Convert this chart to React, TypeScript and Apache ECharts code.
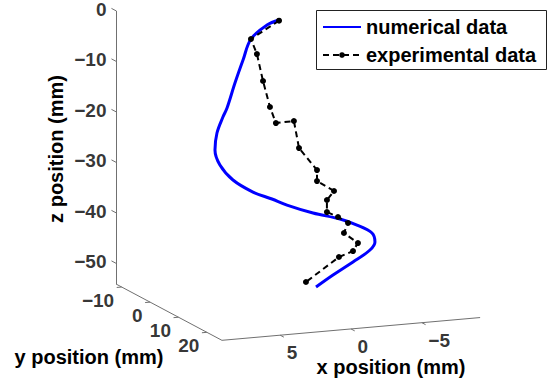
import React, { useEffect, useRef } from "react";
import * as echarts from "echarts";

// ---- data (mm) ----
const NUM_X = [0.01, 0.86, 1.99, 2.55, 3.12, 3.68, 3.97, 4.39, 4.53, 4.18, 3.26, 1.85, 0.51, -0.55, -2.39, -4.29, -5.49, -6.55, -6.76, -6.41, -5.21, -3.8, -2.6];
const NUM_Y = [0, 0, 0, 0, 0, 0, 0, 0, 0, 0, 0, 0, 0, 0, 0, 0, 0, 0, 0, 0, 0, 0, 0];
const NUM_Z = [-0.49, -1.27, -3.76, -7.78, -12.2, -17.01, -18.72, -21.78, -25.12, -28.17, -31.37, -34.1, -35.81, -37.27, -39.3, -40.96, -42.45, -44.29, -46.13, -47.62, -49.7, -51.93, -54.01];

const EXP_X = [0.01, 1.99, 1.57, 1.14, 0.65, 0.23, -1.04, -1.4, -2.67, -2.67, -3.87, -3.37, -3.37, -4.15, -4.86, -4.57, -5.56, -5.21, -4.22, -1.89];
const EXP_Y = [0, 0, 0, 0, 0, 0, 0, 0, 0, 0, 0, 0, 0, 0, 0, 0, 0, 0, 0, 0];
const EXP_Z = [-0.63, -3.76, -6.84, -12.29, -17.56, -20.84, -20.75, -26.19, -30.86, -33.04, -35.31, -36.97, -39.35, -40.53, -41.89, -43.8, -46.03, -47.53, -48.47, -52.84];

const X_RANGE = [-9.11, 9.11];
const Y_RANGE = [-12, 25.3];
const Z_RANGE = [-54.1, 0];
const X_TICKS = [5, 0, -5];
const Y_TICKS = [-10, 0, 10, 20];
const Z_TICKS = [0, -10, -20, -30, -40, -50];

const SERIES_NAMES = ["numerical data", "experimental data"];
const AXIS_TITLES = ["x position (mm)", "y position (mm)", "z position (mm)"];

const FONT = "Liberation Sans";

const fmt = (v: number) => (v < 0 ? "\u2212" + Math.abs(v) : String(v));

// orthographic projection of the 3D box onto the page plane
const [XMIN, XMAX] = X_RANGE;
const [YMIN, YMAX] = Y_RANGE;
const [ZMIN, ZMAX] = Z_RANGE;
const proj = (x: number, y: number, z: number): [number, number] => [
  116 + (x - XMAX) * -14.17 + (y - YMIN) * 2.84,
  284 + (x - XMAX) * 1.25 + (y - YMIN) * 1.51 - (z - ZMIN) * 5.05,
];

export default function App() {
  const ref = useRef<HTMLDivElement>(null);
  useEffect(() => {
    if (!ref.current) return;
    const chart = echarts.init(ref.current, null, { renderer: "svg" });

    const numData = NUM_X.map((x, i) => proj(x, NUM_Y[i], NUM_Z[i]));
    const expData = EXP_X.map((x, i) => proj(x, EXP_Y[i], EXP_Z[i]));

    const segs: any[] = [];
    segs.push({ coords: [proj(XMAX, YMIN, ZMIN), proj(XMAX, YMIN, ZMAX)] });
    segs.push({ coords: [proj(XMAX, YMIN, ZMIN), proj(XMAX, YMAX, ZMIN)] });
    segs.push({ coords: [proj(XMAX, YMAX, ZMIN), proj(XMIN, YMAX, ZMIN)] });
    Z_TICKS.forEach((z) => segs.push({ coords: [proj(XMAX, YMIN, z), proj(XMAX, YMIN - 1.6, z)] }));
    Y_TICKS.forEach((y) => segs.push({ coords: [proj(XMAX, y, ZMIN), proj(XMAX + 0.35, y, ZMIN)] }));
    X_TICKS.forEach((x) => segs.push({ coords: [proj(x, YMAX, ZMIN), proj(x, YMAX + 1.3, ZMIN)] }));

    const tickText = { fontFamily: FONT, fontWeight: "bold" as const, fontSize: 19, color: "#000" };

    const labelSeries = (name: string, data: any[], position: number[], align: string) => ({
      type: "scatter",
      name,
      silent: true,
      symbolSize: 1,
      itemStyle: { color: "transparent" },
      data,
      label: {
        show: true,
        formatter: "{b}",
        position,
        align,
        verticalAlign: "middle",
        ...tickText,
      },
      z: 5,
    });

    chart.setOption({
      animation: false,
      grid: { left: 0, right: 0, top: 0, bottom: 0 },
      xAxis: { type: "value", min: 0, max: 556, show: false },
      yAxis: { type: "value", min: 0, max: 387, inverse: true, show: false },
      legend: {
        data: [
          { name: SERIES_NAMES[0], itemStyle: { color: "transparent", borderWidth: 0, opacity: 0 } },
          { name: SERIES_NAMES[1] },
        ],
        orient: "vertical",
        left: 322,
        top: 17,
        padding: 0,
        itemWidth: 38,
        itemHeight: 7,
        itemGap: 8,
        textStyle: { fontFamily: FONT, fontWeight: "bold", fontSize: 20, color: "#000", lineHeight: 20 },
        selectedMode: false,
      },
      graphic: [
        { type: "rect", shape: { x: 316.5, y: 10.5, width: 230, height: 59 }, style: { fill: "#fff", stroke: "#222", lineWidth: 1 }, z: -1, silent: true },
        { type: "text", x: 391, y: 367, style: { text: AXIS_TITLES[0], fontFamily: FONT, fontWeight: "bold", fontSize: 20, fill: "#000", align: "center", verticalAlign: "middle" } },
        { type: "text", x: 89, y: 357, style: { text: AXIS_TITLES[1], fontFamily: FONT, fontWeight: "bold", fontSize: 20, fill: "#000", align: "center", verticalAlign: "middle" } },
        { type: "text", x: 56, y: 149, rotation: Math.PI / 2, style: { text: AXIS_TITLES[2], fontFamily: FONT, fontWeight: "bold", fontSize: 20, fill: "#000", align: "center", verticalAlign: "middle" } },
      ],
      series: [
        {
          type: "lines",
          name: "axes",
          coordinateSystem: "cartesian2d",
          silent: true,
          data: segs,
          lineStyle: { color: "#707070", width: 1, opacity: 1 },
          z: 1,
        },
        labelSeries("zticks", Z_TICKS.map((z) => ({ name: fmt(z), value: proj(XMAX, YMIN, z) })), [-9, -1], "right"),
        labelSeries("yticks", Y_TICKS.map((y) => ({ name: fmt(y), value: proj(XMAX, y, ZMIN) })), [-7, 14], "right"),
        labelSeries("xticks", X_TICKS.map((x) => ({ name: fmt(x), value: proj(x, YMAX, ZMIN) })), [7, 18], "left"),
        {
          type: "line",
          name: SERIES_NAMES[0],
          data: numData,
          symbol: "none",
          smooth: 0.35,
          lineStyle: { color: "#0000ff", width: 3 },
          itemStyle: { color: "#0000ff" },
          z: 3,
        },
        {
          type: "line",
          name: SERIES_NAMES[1],
          data: expData,
          symbol: "circle",
          symbolSize: 6,
          showSymbol: true,
          lineStyle: { color: "#000", width: 2, type: [6, 4] },
          itemStyle: { color: "#000" },
          z: 4,
        },
      ],
    });
    return () => chart.dispose();
  }, []);
  return <div ref={ref} style={{ position: "absolute", left: 0, top: 0, width: 556, height: 387, background: "#fff" }} />;
}
